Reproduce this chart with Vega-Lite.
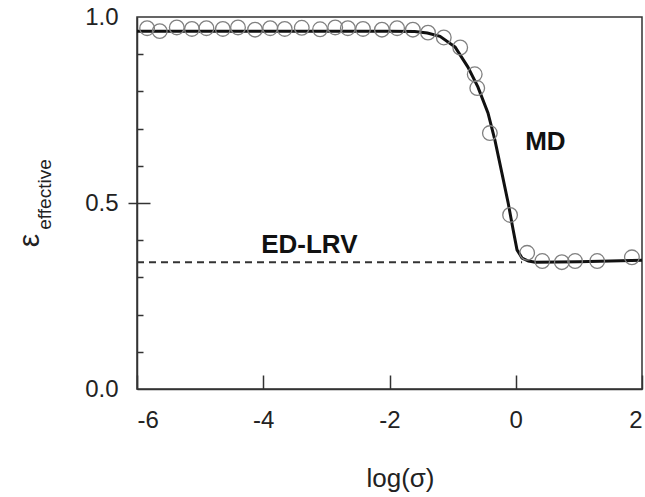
{
  "$schema": "https://vega.github.io/schema/vega-lite/v6.json",
  "width": 505,
  "height": 372,
  "autosize": {"type": "none"},
  "padding": {"left": 137, "top": 17, "right": 3, "bottom": 108},
  "background": "white",
  "config": {
    "view": {"stroke": "#333", "strokeWidth": 1.5},
    "font": "Liberation Sans",
    "axis": {"labelFont": "Liberation Sans", "titleFont": "Liberation Sans", "labelColor": "#222", "titleColor": "#222", "domainColor": "#333", "domainWidth": 1.5, "tickColor": "#333", "tickWidth": 1.5, "grid": false}
  },
  "datasets": {
    "fit": [
      {"x": -6, "y": 0.962}, {"x": -3, "y": 0.962}, {"x": -2, "y": 0.962}, {"x": -1.6, "y": 0.961},
      {"x": -1.4, "y": 0.957}, {"x": -1.2, "y": 0.948}, {"x": -0.96, "y": 0.919}, {"x": -0.76, "y": 0.866},
      {"x": -0.6, "y": 0.812}, {"x": -0.44, "y": 0.742}, {"x": -0.33, "y": 0.669}, {"x": -0.22, "y": 0.581},
      {"x": -0.12, "y": 0.5}, {"x": -0.04, "y": 0.427}, {"x": 0.02, "y": 0.374}, {"x": 0.1, "y": 0.352},
      {"x": 0.2, "y": 0.344}, {"x": 0.31, "y": 0.341}, {"x": 1.0, "y": 0.342}, {"x": 2.0, "y": 0.346}
    ],
    "obs": [
      {"x": -5.84, "y": 0.970}, {"x": -5.64, "y": 0.962}, {"x": -5.37, "y": 0.972}, {"x": -5.13, "y": 0.968},
      {"x": -4.90, "y": 0.970}, {"x": -4.64, "y": 0.968}, {"x": -4.40, "y": 0.972}, {"x": -4.13, "y": 0.966},
      {"x": -3.89, "y": 0.970}, {"x": -3.66, "y": 0.968}, {"x": -3.39, "y": 0.971}, {"x": -3.10, "y": 0.967},
      {"x": -2.86, "y": 0.972}, {"x": -2.66, "y": 0.970}, {"x": -2.42, "y": 0.968}, {"x": -2.12, "y": 0.966},
      {"x": -1.88, "y": 0.970}, {"x": -1.63, "y": 0.966}, {"x": -1.39, "y": 0.958}, {"x": -1.14, "y": 0.945},
      {"x": -0.88, "y": 0.918}, {"x": -0.65, "y": 0.846}, {"x": -0.61, "y": 0.809}, {"x": -0.41, "y": 0.688},
      {"x": -0.09, "y": 0.468}, {"x": 0.18, "y": 0.366}, {"x": 0.42, "y": 0.344}, {"x": 0.73, "y": 0.341},
      {"x": 0.94, "y": 0.344}, {"x": 1.29, "y": 0.344}, {"x": 1.84, "y": 0.354}
    ],
    "lrv": [{"x": -6, "y": 0.341}, {"x": 0.1, "y": 0.341}],
    "labels": [{"x": 0.47, "y": 0.664, "t": "MD"}, {"x": -3.27, "y": 0.387, "t": "ED-LRV"}]
  },
  "resolve": {"axis": {"y": "independent"}},
  "layer": [
    {
      "data": {"name": "lrv"},
      "mark": {"type": "line", "color": "#333", "strokeWidth": 2, "strokeDash": [7, 5]},
      "encoding": {
        "x": {"field": "x", "type": "quantitative", "scale": {"domain": [-6, 2], "nice": false, "zero": false},
          "axis": {"values": [-6, -4, -2, 0, 2], "labelExpr": "'' + datum.value", "tickSize": -14, "labelPadding": 33, "labelFontSize": 24,
            "title": "log(σ)", "titleFontSize": 26, "titleFontWeight": "normal", "titleAlign": "center", "titleBaseline": "alphabetic", "titleX": 263, "titleY": 97}},
        "y": {"field": "y", "type": "quantitative", "scale": {"domain": [0, 1], "nice": false},
          "axis": {"orient": "left", "values": [0, 0.5, 1], "format": ".1f", "labelFontSize": 24, "tickSize": 9,
            "tickOpacity": {"condition": {"test": "datum.value == 0.5", "value": 1}, "value": 0}, "labelPadding": 10,
            "title": "ε", "titleFontSize": 30, "titleFontWeight": "normal", "titleAngle": -90, "titleAlign": "center", "titleBaseline": "alphabetic", "titleX": -99, "titleY": 223}}
      }
    },
    {
      "data": {"name": "fit"},
      "mark": {"type": "line", "color": "#111", "strokeWidth": 3},
      "encoding": {
        "x": {"field": "x", "type": "quantitative"},
        "y": {"field": "y", "type": "quantitative",
          "axis": {"orient": "left", "values": [0.1, 0.2, 0.3, 0.4, 0.5, 0.6, 0.7, 0.8, 0.9], "labels": false, "domain": false,
            "tickSize": {"condition": {"test": "datum.value == 0.5", "value": -13}, "value": -6},
            "title": "effective", "titleFontSize": 19, "titleFontWeight": "normal", "titleAngle": -90, "titleAlign": "center", "titleBaseline": "alphabetic", "titleX": -87, "titleY": 177}}
      }
    },
    {
      "data": {"name": "obs"},
      "mark": {"type": "point", "filled": false, "size": 215, "stroke": "#808080", "strokeWidth": 1.3, "opacity": 1},
      "encoding": {
        "x": {"field": "x", "type": "quantitative"},
        "y": {"field": "y", "type": "quantitative", "axis": null}
      }
    },
    {
      "data": {"name": "labels"},
      "mark": {"type": "text", "font": "Liberation Sans", "fontSize": 26, "fontWeight": "bold", "align": "center", "baseline": "middle", "color": "#111"},
      "encoding": {
        "x": {"field": "x", "type": "quantitative"},
        "y": {"field": "y", "type": "quantitative", "axis": null},
        "text": {"field": "t"}
      }
    }
  ]
}
